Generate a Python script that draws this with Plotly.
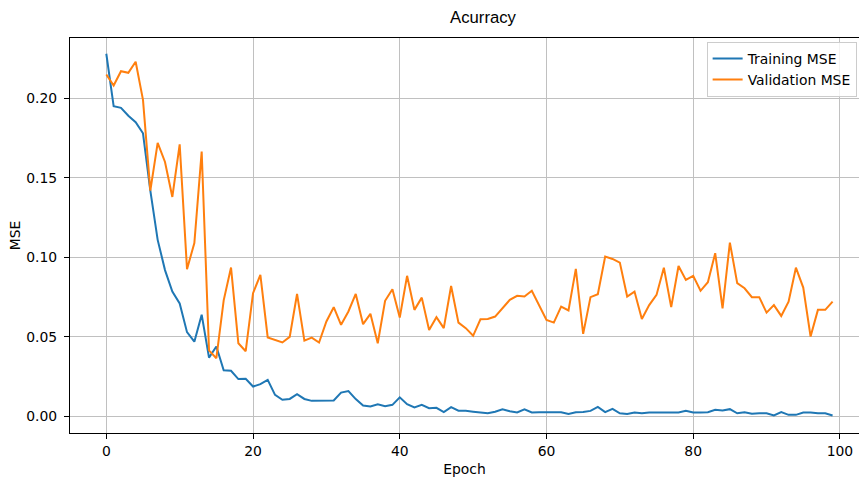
import plotly.graph_objects as go

epochs = list(range(100))

training_mse = [
    0.228, 0.195, 0.194, 0.189, 0.185, 0.178, 0.142, 0.111, 0.092, 0.0785,
    0.071, 0.053, 0.047, 0.064, 0.037, 0.044, 0.029, 0.0287, 0.0235, 0.0237,
    0.0188, 0.0203, 0.023, 0.0136, 0.0105, 0.011, 0.014, 0.011, 0.0098, 0.010,
    0.0098, 0.010, 0.015, 0.016, 0.0109, 0.0069, 0.0063, 0.0077, 0.0065, 0.0073,
    0.012, 0.0077, 0.0057, 0.0073, 0.0052, 0.0054, 0.0027, 0.0059, 0.0036, 0.0036,
    0.003, 0.0025, 0.002, 0.003, 0.0045, 0.0033, 0.0025, 0.0045, 0.0025, 0.0027,
    0.0025, 0.0027, 0.0027, 0.0015, 0.0027, 0.0028, 0.0035, 0.006, 0.0027, 0.0048,
    0.002, 0.0015, 0.0025, 0.002, 0.0025, 0.0025, 0.0025, 0.0025, 0.0025, 0.0036,
    0.0025, 0.0025, 0.0027, 0.0042, 0.0038, 0.0046, 0.002, 0.0027, 0.0017, 0.002,
    0.002, 0.0006, 0.0027, 0.001, 0.001, 0.0025, 0.0025, 0.002, 0.002, 0.0006,
]

validation_mse = [
    0.215, 0.208, 0.217, 0.216, 0.223, 0.199, 0.142, 0.172, 0.160, 0.138,
    0.171, 0.0926, 0.109, 0.1665, 0.0415, 0.0366, 0.073, 0.0936, 0.046, 0.041,
    0.0775, 0.089, 0.0497, 0.048, 0.0465, 0.050, 0.077, 0.0477, 0.0496, 0.0465,
    0.0597, 0.0687, 0.0576, 0.066, 0.077, 0.058, 0.0645, 0.046, 0.0727, 0.080,
    0.0622, 0.0884, 0.067, 0.0747, 0.0544, 0.0624, 0.0555, 0.082, 0.059, 0.0555,
    0.0507, 0.0611, 0.0613, 0.0628, 0.068, 0.0733, 0.0758, 0.0754, 0.079, 0.070,
    0.0607, 0.059, 0.069, 0.0666, 0.0928, 0.0519, 0.075, 0.0768, 0.1005, 0.099,
    0.0967, 0.0754, 0.0785, 0.0613, 0.070, 0.0764, 0.0935, 0.0687, 0.0946, 0.0858,
    0.0884, 0.079, 0.0844, 0.1026, 0.068, 0.1093, 0.0838, 0.0806, 0.075, 0.075,
    0.0653, 0.070, 0.0632, 0.0722, 0.0935, 0.081, 0.0502, 0.067, 0.067, 0.0722,
]

x_ticks = [0, 20, 40, 60, 80, 100]
y_ticks = [0.00, 0.05, 0.10, 0.15, 0.20]
y_tick_labels = ["0.00", "0.05", "0.10", "0.15", "0.20"]

FONT = "DejaVu Sans"
FS = 13.9

fig = go.Figure()
fig.add_trace(go.Scatter(x=epochs, y=training_mse, mode="lines", name="Training MSE",
                         line=dict(color="#1f77b4", width=2)))
fig.add_trace(go.Scatter(x=epochs, y=validation_mse, mode="lines", name="Validation MSE",
                         line=dict(color="#ff7f0e", width=2)))

fig.update_layout(
    width=859, height=479,
    margin=dict(l=70, r=0, t=38, b=46, autoexpand=False),
    paper_bgcolor="white", plot_bgcolor="white",
    font=dict(family=FONT, size=FS, color="black"),
    title=dict(text="Acurracy", x=483 / 859, xref="container", xanchor="center",
               y=1 - 17 / 479, yref="container", yanchor="middle",
               font=dict(family="Liberation Sans", size=16.7, color="black")),
    showlegend=True,
    legend=dict(x=0.997, xanchor="right", y=0.99, yanchor="top",
                bgcolor="rgba(255,255,255,0.8)", bordercolor="#cccccc", borderwidth=1,
                itemwidth=30, font=dict(family=FONT, size=FS, color="black")),
)

fig.update_xaxes(
    range=[-4.95, 102.6], tickvals=x_ticks, ticktext=[str(t) for t in x_ticks],
    showgrid=True, gridcolor="#c0c0c0", gridwidth=1, zeroline=False,
    showline=True, linecolor="black", linewidth=1, mirror=True,
    ticks="outside", ticklen=5, tickwidth=1, tickcolor="black",
    title=dict(text="Epoch", standoff=6, font=dict(family=FONT, size=FS, color="black")),
)
fig.update_yaxes(
    range=[-0.0104, 0.2379], tickvals=y_ticks, ticktext=y_tick_labels,
    showgrid=True, gridcolor="#c0c0c0", gridwidth=1, zeroline=False,
    showline=True, linecolor="black", linewidth=1, mirror=False,
    ticks="outside", ticklen=5, tickwidth=1, tickcolor="black",
    ticklabelstandoff=4,
    title=dict(text="MSE", standoff=2, font=dict(family=FONT, size=FS, color="black")),
)

fig.write_html("out.html", config={"displayModeBar": False},
               post_script="document.body.style.margin='0';document.body.style.overflow='hidden';")
